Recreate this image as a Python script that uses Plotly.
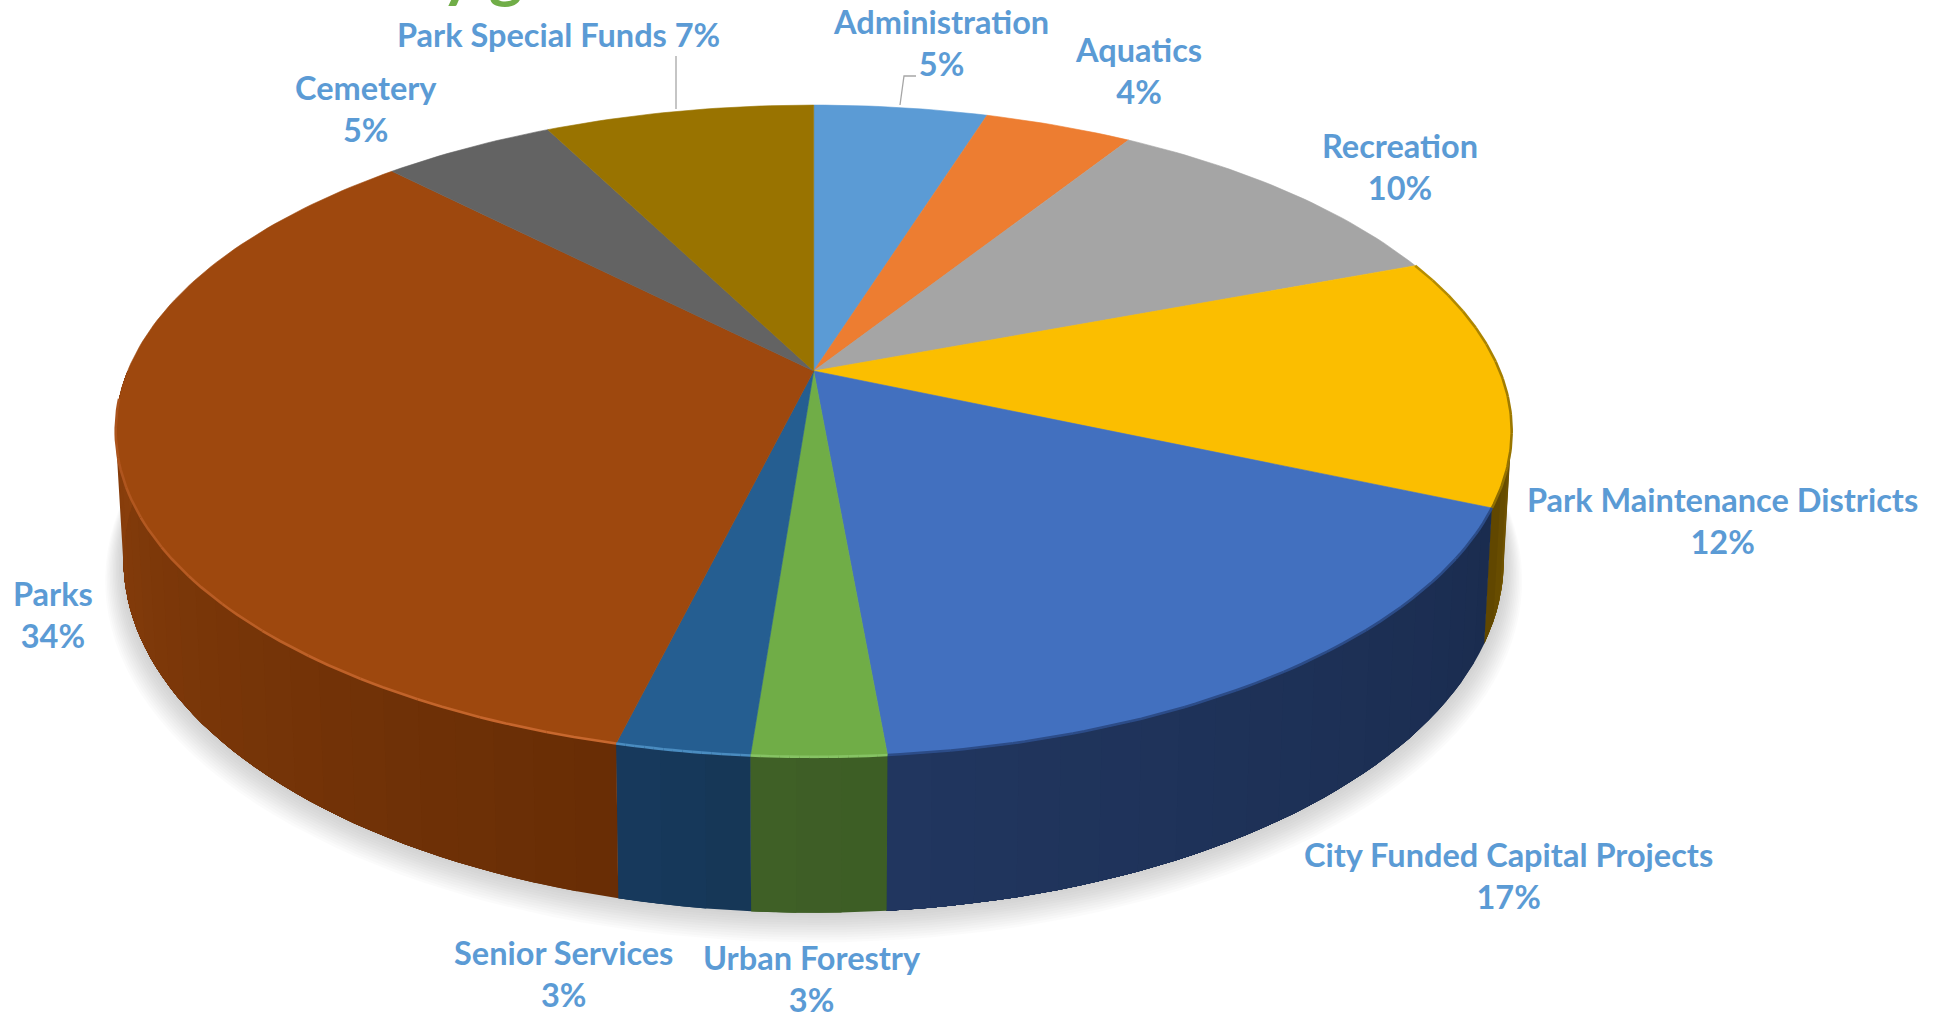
import numpy as np
import plotly.graph_objects as go

# ---- data (percent of the whole) ----
CATEGORIES = ["Administration", "Aquatics", "Recreation", "Park Maintenance Districts",
              "City Funded Capital Projects", "Urban Forestry", "Senior Services",
              "Parks", "Cemetery", "Park Special Funds"]
VALUES = [4.8, 4.1, 10.3, 12.4, 17.0, 2.6, 2.6, 33.95, 4.8, 7.45]
TOP_COLORS = ["#5B9BD5", "#ED7D31", "#A5A5A5", "#FBBE00", "#4270BF",
              "#70AD47", "#255E91", "#9E480E", "#636363", "#997300"]

# ---- styles and layout, separate from the data ----
S = 1939 / 1568
SIDE = {3: ("#8A6700", "#5E4500"), 4: ("#1A2C4F", "#21365F"), 5: ("#3D5D25", "#3F6026"),
        6: ("#163656", "#173A5D"), 7: ("#682D05", "#8A3F0C")}
RIM = {3: ("#B88F00", "#8F6D00"), 4: ("#2C4C88", "#2C4C88"), 5: ("#86C364", "#86C364"),
       6: ("#4A8CC0", "#4A8CC0"), 7: ("#C9692F", "#A9511A")}
LABEL_POS = {0: (761, 34), 1: (921, 57), 2: (1132, 135), 3: (1393, 421), 4: (1220, 708),
             5: (657, 791), 6: (456, 787), 7: (43, 497), 8: (296, 88), 9: (452, 28)}
TEXT_COLOR = "#5B9BD5"
FONT = "Lato"


def top_pt(t):
    u, v = np.sin(t), np.cos(t)
    w = 1 + 0.184 * v
    return (658 + 554.8 * u / w) * S, (300 - 254.6 * v / w) * S


def base_pt(t):
    u, v = np.sin(t), np.cos(t)
    w = 1 + 0.184 * v
    return (658 + 548.6 * u / w) * S, (400.6 - 275.4 * v / w) * S


def mix(a, b, f):
    ca = [int(a[i:i + 2], 16) for i in (1, 3, 5)]
    cb = [int(b[i:i + 2], 16) for i in (1, 3, 5)]
    return "#%02x%02x%02x" % tuple(round(x + (y - x) * f) for x, y in zip(ca, cb))


def poly(x, y, color, line=0.0):
    return go.Scatter(x=list(x), y=list(y), mode="lines", fill="toself", fillcolor=color,
                      line=dict(color=color, width=line), hoverinfo="skip", showlegend=False)


fig = go.Figure()

# soft drop shadow under the base
full = np.linspace(0, 2 * np.pi, 181)
for i in range(12, 0, -1):
    bx, by = base_pt(full)
    cx, cy = 658.5 * S, 453 * S
    g = 1 + 0.0022 * i
    fig.add_trace(poly(cx + (bx - cx) * g, cy + (by - cy) * g + 1.7 * i,
                       "rgba(120,120,120,0.032)"))

edges = np.cumsum([0] + VALUES) / sum(VALUES) * 2 * np.pi

# outer wall: each strip runs to the end of its slice, so the next one paints over it
front_a, front_b = np.pi / 2, 3 * np.pi / 2
for i, (a, b) in enumerate(zip(edges[:-1], edges[1:])):
    lo, hi = max(a, front_a), min(b, front_b)
    if hi <= lo or i not in SIDE:
        continue
    n = max(1, int((hi - lo) / np.radians(3)))
    grid = np.linspace(lo, hi, n + 1)
    for j in range(n):
        tt = np.linspace(grid[j], hi, max(3, 2 * (n - j) + 1))
        tx, ty = top_pt(tt)
        bx, by = base_pt(tt[::-1])
        col = mix(SIDE[i][0], SIDE[i][1], (j + 0.5) / n)
        fig.add_trace(poly(np.r_[tx, bx, tx[0]], np.r_[ty, by, ty[0]], col))

# top face wedges
apex = (658 * S, 300 * S)
for i, (a, b) in enumerate(zip(edges[:-1], edges[1:])):
    tt = np.linspace(a, b, max(3, int((b - a) / np.radians(1))))
    tx, ty = top_pt(tt)
    fig.add_trace(go.Scatter(x=np.r_[apex[0], tx, apex[0]], y=np.r_[apex[1], ty, apex[1]],
                             mode="lines", fill="toself", fillcolor=TOP_COLORS[i],
                             line=dict(color=TOP_COLORS[i], width=0.6),
                             name=CATEGORIES[i], hoverinfo="name", showlegend=False))

# bevel highlight on the front rim
for i, (c0, c1) in RIM.items():
    a, b = edges[i], min(edges[i + 1], np.radians(265))
    n = 14
    grid = np.linspace(a, b, n + 1)
    for j in range(n):
        tt = np.linspace(grid[j], grid[j + 1], 6)
        tx, ty = top_pt(tt)
        fig.add_trace(go.Scatter(x=tx, y=ty, mode="lines",
                                 line=dict(color=mix(c0, c1, (j + 0.5) / n), width=2.6),
                                 hoverinfo="skip", showlegend=False))

# leader lines
for xs, ys in (([676, 676], [56, 109]), ([900, 904, 916], [105, 76, 76])):
    fig.add_trace(go.Scatter(x=xs, y=ys, mode="lines", line=dict(color="#A6A6A6", width=1.3),
                             hoverinfo="skip", showlegend=False))

# data labels
for i, name in enumerate(CATEGORIES):
    pct = f"{round(VALUES[i])}%"
    sep = " " if i == 9 else "<br>"
    px, py = LABEL_POS[i]
    fig.add_annotation(x=px * S, y=py * S, text=f"{name}{sep}{pct}", showarrow=False,
                       xanchor="center", yanchor="middle", align="center",
                       font=dict(family=FONT, size=32.5, color=TEXT_COLOR, weight="bold"))

# the foot of the clipped title at the very top of the picture
fig.add_annotation(x=482, y=12, text="y g", showarrow=False, xanchor="center", yanchor="bottom",
                   font=dict(family="Lato", size=64, color="#70AD47", weight="bold"))

fig.update_layout(width=1939, height=1015, margin=dict(l=0, r=0, t=0, b=0),
                  paper_bgcolor="white", plot_bgcolor="white", showlegend=False,
                  xaxis=dict(range=[0, 1939], visible=False, fixedrange=True),
                  yaxis=dict(range=[1015, 0], visible=False, fixedrange=True))

fig.write_html("out.html", config={"displayModeBar": False},
               post_script="document.body.style.margin='0';document.body.style.overflow='hidden';")
